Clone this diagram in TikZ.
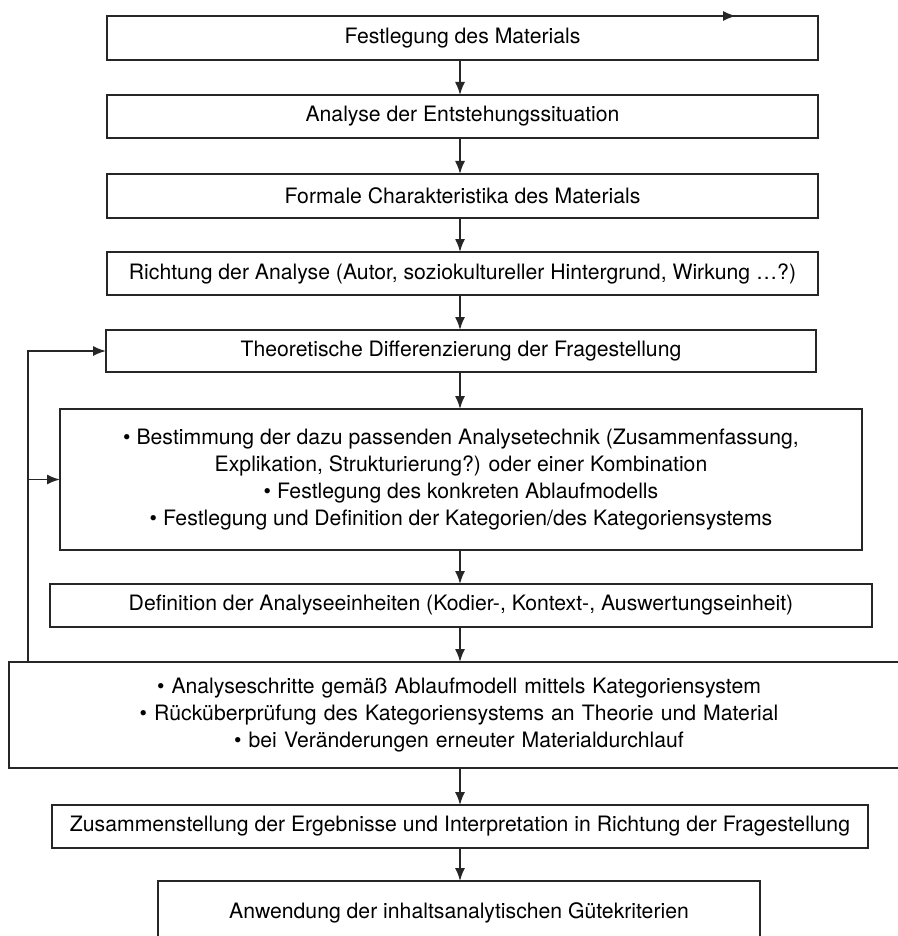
\documentclass[tikz,border=0pt]{standalone}
\usepackage{fontspec}
\setmainfont{TeX Gyre Heros}
\usetikzlibrary{arrows.meta}
\begin{document}
\begin{tikzpicture}[x=1pt,y=-1pt,
  box/.style={draw=black!85,line width=1.6pt,inner sep=0pt,outer sep=0pt,align=center,
    font=\fontsize{21.2}{27}\selectfont},
  flow/.style={draw=black!85,line width=1.6pt,-{Latex[length=13pt,width=10pt]}}]
\useasboundingbox[fill=white] (0,0) rectangle (897,936);
% boxes (centre, width, height from reference pixels)
\node[box,minimum width=711,minimum height=44] (b1) at (462.5,38) {Festlegung des Materials};
\node[box,minimum width=711,minimum height=43] (b2) at (462.5,116.5) {Analyse der Entstehungssituation};
\node[box,minimum width=711,minimum height=44] (b3) at (462.5,196) {Formale Charakteristika des Materials};
\node[box,minimum width=711,minimum height=43] (b4) at (462.5,273.5) {Richtung der Analyse (Autor, soziokultureller Hintergrund, Wirkung \dots?)};
\node[box,minimum width=710,minimum height=42] (b5) at (461,351) {Theoretische Differenzierung der Fragestellung};
\node[box,minimum width=802,minimum height=141] (b6) at (461,479.5) {\textbullet\ Bestimmung der dazu passenden Analysetechnik (Zusammenfassung,\\Explikation, Strukturierung?) oder einer Kombination\\\textbullet\ Festlegung des konkreten Ablaufmodells\\\textbullet\ Festlegung und Definition der Kategorien/des Kategoriensystems};
\node[box,minimum width=822,minimum height=43] (b7) at (461,605.5) {Definition der Analyseeinheiten (Kodier-, Kontext-, Auswertungseinheit)};
\node[box,minimum width=900,minimum height=106,text width=820] (b8) at (459,715) {\textbullet\ Analyseschritte gemäß Ablaufmodell mittels Kategoriensystem\\\textbullet\ Rücküberprüfung des Kategoriensystems an Theorie und Material\\\textbullet\ bei Veränderungen erneuter Materialdurchlauf};
\node[box,minimum width=816,minimum height=43] (b9) at (460,826.5) {Zusammenstellung der Ergebnisse und Interpretation in Richtung der Fragestellung};
\node[box,minimum width=602,minimum height=64] (b10) at (459,913) {Anwendung der inhaltsanalytischen Gütekriterien};
% main flow
\foreach \a/\b in {b1/b2,b2/b3,b3/b4,b4/b5,b5/b6,b6/b7,b7/b8,b8/b9,b9/b10}
  \draw[flow] (\a.south -| 460,0) -- (\b.north -| 460,0);
% feedback loop
\coordinate (fb) at (28,0);
\draw[flow] (b8.north -| fb) -- (fb |- b5.west) -- (b5.west);
\draw[flow] (fb |- b6.west) -- (b6.west);
% small arrowhead on top edge of the first box
\coordinate (tip) at (736,0);
\draw[flow] (b1.north west) -- (tip |- b1.north);
\end{tikzpicture}
\end{document}
